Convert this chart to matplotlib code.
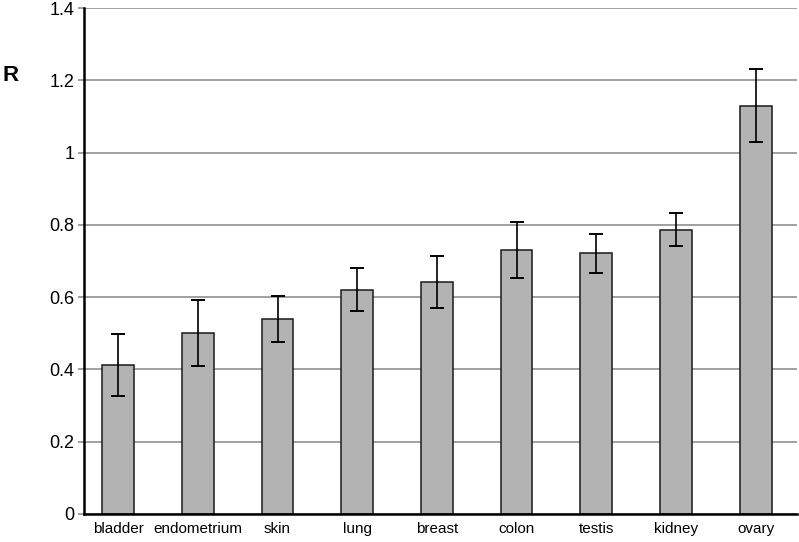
import matplotlib
matplotlib.use("Agg")
import matplotlib.pyplot as plt
import numpy as np

plt.rcParams['font.family'] = ['Liberation Sans', 'DejaVu Sans']

categories = ["bladder", "endometrium", "skin", "lung", "breast", "colon", "testis", "kidney", "ovary"]
values = [0.413, 0.500, 0.539, 0.621, 0.642, 0.730, 0.721, 0.787, 1.130]
errors = [0.086, 0.092, 0.063, 0.060, 0.071, 0.077, 0.054, 0.045, 0.101]
yticks = [0, 0.2, 0.4, 0.6, 0.8, 1.0, 1.2, 1.4]
yticklabels = ["0", "0.2", "0.4", "0.6", "0.8", "1", "1.2", "1.4"]

fig = plt.figure(figsize=(7.99, 5.42), dpi=100)
ax = fig.add_axes([0.105, 0.052, 0.8925, 0.933])

x = np.arange(len(categories))
ax.set_axisbelow(True)
ax.yaxis.grid(True, color="#a0a0a0", linewidth=1.4)
ax.bar(x, values, width=0.4, color="#b3b3b3", edgecolor="#1a1a1a", linewidth=1.1, zorder=2)
ax.errorbar(x, values, yerr=errors, fmt="none", ecolor="black", elinewidth=1.2,
            capsize=4.7, capthick=1.4, zorder=3)

ax.set_xlim(-0.43, 8.52)
ax.set_ylim(0, 1.4)
ax.set_yticks(yticks)
ax.set_yticklabels(yticklabels, fontsize=13)
ax.set_xticks(x)
ax.set_xticklabels(categories, fontsize=11)
ax.tick_params(axis="x", length=0, pad=6)
ax.tick_params(axis="y", length=4.5, width=1.4, color="#a0a0a0", pad=2.5)

for s in ["top", "right"]:
    ax.spines[s].set_visible(False)
ax.spines["left"].set_linewidth(1.8)
ax.spines["bottom"].set_linewidth(1.8)

fig.text(0.003, 0.861, "R", fontsize=16, fontweight="bold", ha="left", va="center")

fig.savefig("out.png", dpi=100)
